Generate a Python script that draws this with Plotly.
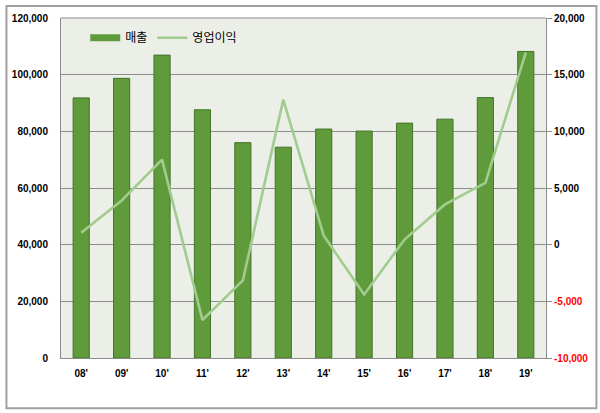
import plotly.graph_objects as go

years = ["08'", "09'", "10'", "11'", "12'", "13'", "14'", "15'", "16'", "17'", "18'", "19'"]
sales = [91800, 98700, 106900, 87600, 76000, 74400, 80800, 80100, 82900, 84300, 91900, 108200]
op_profit = [1050, 3900, 7500, -6650, -3150, 12800, 800, -4400, 450, 3550, 5450, 16950]

left_ticks = [0, 20000, 40000, 60000, 80000, 100000, 120000]
right_ticks = [-10000, -5000, 0, 5000, 10000, 15000, 20000]


def fmt(v):
    return f"{v:,}"


right_text = [f"<span style='color:#ff0000'>{fmt(v)}</span>" if v < 0 else fmt(v) for v in right_ticks]

BAR_COLOR = "#5f9a3b"
LINE_COLOR = "#a2cc8e"

fig = go.Figure()
fig.add_trace(go.Bar(
    x=years, y=sales, name="매출", showlegend=False,
    marker=dict(color=BAR_COLOR, line=dict(color="#44732a", width=1)),
    width=0.4,
))
# legend entry for the bars (wide rectangle symbol like the reference)
fig.add_trace(go.Scatter(
    x=[None], y=[None], name="매출", mode="lines",
    line=dict(color=BAR_COLOR, width=7),
))
fig.add_trace(go.Scatter(
    x=years, y=op_profit, name="영업이익", yaxis="y2", mode="lines",
    line=dict(color=LINE_COLOR, width=2.6),
))

font_family = "Liberation Sans, Arial, sans-serif"
fig.update_layout(
    width=600, height=413,
    margin=dict(l=57, r=54, t=14, b=55),
    paper_bgcolor="white",
    plot_bgcolor="#ebefe8",
    font=dict(family=font_family, size=10, color="black"),
    showlegend=True,
    legend=dict(
        orientation="h", x=0.05, y=0.942, xanchor="left", yanchor="middle",
        bgcolor="rgba(0,0,0,0)", font=dict(size=12, family="Noto Sans CJK KR"),
        itemwidth=30, traceorder="normal",
    ),
    xaxis=dict(
        showgrid=False, showline=True, linecolor="#8c8c8c", linewidth=1,
        tickfont=dict(size=10, weight="bold"), ticks="", ticklabelstandoff=6,
        mirror=False, range=[-0.5, 11.5],
    ),
    yaxis=dict(
        range=[0, 120000], tickvals=left_ticks, ticktext=[fmt(v) for v in left_ticks],
        showgrid=True, gridcolor="#8c8c8c", gridwidth=1,
        showline=True, linecolor="#8c8c8c", linewidth=1,
        tickfont=dict(size=10, weight="bold"), ticks="", ticklabelstandoff=10,
        zeroline=False,
    ),
    yaxis2=dict(
        range=[-10000, 20000], tickvals=right_ticks, ticktext=right_text,
        overlaying="y", side="right", showgrid=False,
        showline=True, linecolor="#8c8c8c", linewidth=1,
        ticks="outside", ticklen=5, tickcolor="#8c8c8c",
        tickfont=dict(size=10, weight="bold"), zeroline=False,
    ),
    bargap=0.6,
)

fig.add_shape(type="rect", xref="paper", yref="paper",
              x0=-0.1125, x1=1.104, y0=-0.148, y1=1.035,
              line=dict(color="#a0a0a0", width=2), fillcolor="rgba(0,0,0,0)", layer="below")
fig.add_shape(type="line", xref="paper", yref="paper", x0=0, x1=1, y0=1, y1=1,
              line=dict(color="#8c8c8c", width=1))

fig.write_html("out.html")
